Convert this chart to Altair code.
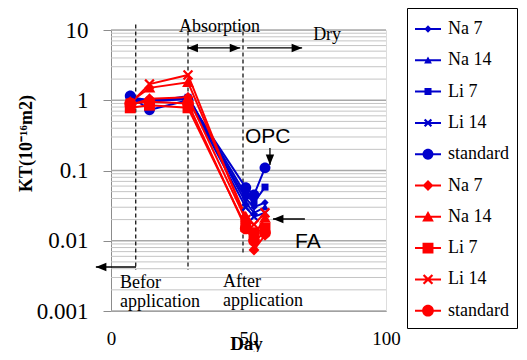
import altair as alt
import pandas as pd

# ---------------- data ----------------
days = [7, 14, 28, 49, 52, 56]
series_keys = ["OPC|Na 7", "OPC|Na 14", "OPC|Li 7", "OPC|Li 14", "OPC|standard",
               "FA|Na 7", "FA|Na 14", "FA|Li 7", "FA|Li 14", "FA|standard"]

opc_na7 = [1.05, 1.0, 1.05, 0.040, 0.030, 0.035]
opc_na14 = [1.0, 0.95, 1.15, 0.035, 0.025, 0.030]
opc_li7 = [1.10, 1.0, 1.10, 0.045, 0.035, 0.058]
opc_li14 = [1.05, 0.95, 1.05, 0.030, 0.022, 0.025]
opc_std = [1.15, 0.73, 1.0, 0.057, 0.045, 0.109]
fa_na7 = [0.85, 1.05, 1.10, 0.020, 0.0074, 0.012]
fa_na14 = [0.95, 1.50, 1.80, 0.022, 0.012, 0.021]
fa_li7 = [0.78, 0.85, 0.78, 0.016, 0.013, 0.015]
fa_li14 = [0.90, 1.70, 2.29, 0.020, 0.017, 0.025]
fa_std = [0.90, 0.95, 0.90, 0.015, 0.010, 0.013]
all_series = [opc_na7, opc_na14, opc_li7, opc_li14, opc_std,
              fa_na7, fa_na14, fa_li7, fa_li14, fa_std]

y_ticks = [0.001, 0.01, 0.1, 1, 10]
x_ticks = [0, 50, 100]
grid_vals = [k * 10.0 ** e for e in range(-3, 1) for k in range(1, 10)] + [10]

# annotations
dash_days = [9, 28, 48]
dash_top = [12, 12, 12]
dash_bottom = [0.00384, 0.00384, 0.0067]

arr_x1 = [27.8, 49.5, 9.1, 57.8, 70.5]
arr_x2 = [47.0, 69.5, -5.5, 57.8, 58.9]
arr_y1 = [5.55, 5.55, 0.00423, 0.209, 0.0204]
arr_y2 = [5.55, 5.55, 0.00423, 0.12, 0.0204]

head_day = [27.8, 47.0, 69.5, -5.5, 57.8, 58.9]
head_kt = [5.55, 5.55, 5.55, 0.00423, 0.12, 0.0204]
head_dir = ["left", "right", "right", "left", "down", "left"]

serif_texts = ["Absorption", "Dry", "Befor", "application", "After", "application"]
serif_day = [24.7, 73.5, 3.3, 3.3, 40.7, 40.7]
serif_kt = [9.37, 7.21, 0.002126, 0.00114, 0.0022, 0.00118]
sans_texts = ["OPC", "FA"]
sans_day = [48.7, 66.9]
sans_kt = [0.246, 0.00789]

# ---------------- styles ----------------
BLUE = "#0000cc"
RED = "#ff0000"
colors = [BLUE] * 5 + [RED] * 5


def diamond(s):
    return f"M0,{-s}L{s},0L0,{s}L{-s},0Z"


def triangle(s):
    return f"M0,{-s}L{s},{0.8 * s}L{-s},{0.8 * s}Z"


def square(s):
    return f"M{-s},{-s}L{s},{-s}L{s},{s}L{-s},{s}Z"


def xmark(s, t=0.12):
    return (f"M{-s},{-s + t}L{-s + t},{-s}L0,{-t}L{s - t},{-s}L{s},{-s + t}L{t},0"
            f"L{s},{s - t}L{s - t},{s}L0,{t}L{-s + t},{s}L{-s},{s - t}L{-t},0Z")


def circle(r):
    return f"M{-r},0A{r},{r} 0 1,1 {r},0A{r},{r} 0 1,1 {-r},0Z"


markers = [diamond(0.28), triangle(0.3), square(0.27), xmark(0.32), circle(0.42),
           diamond(0.42), triangle(0.45), square(0.42), xmark(0.4), circle(0.45)]
LINE = "M-1,-0.077L1,-0.077L1,0.077L-1,0.077Z"
legend_symbols = [LINE + m for m in markers]

heads = {"right": "M0,0L-2,-0.8L-2,0.8Z",
         "left": "M0,0L2,-0.8L2,0.8Z",
         "down": "M0,0L-0.8,-2L0.8,-2Z"}

# ---------------- tables ----------------
rows = []
for key, vals in zip(series_keys, all_series):
    for d, v in zip(days, vals):
        rows.append({"key": key, "day": d, "kt": v})
df = pd.DataFrame(rows)

grid_df = pd.DataFrame({"v": grid_vals,
                        "major": [any(abs(v - t) < 1e-12 for t in y_ticks) for v in grid_vals]})
dash_df = pd.DataFrame({"day": dash_days, "top": dash_top, "bottom": dash_bottom})
arr_df = pd.DataFrame({"x1": arr_x1, "x2": arr_x2, "y1": arr_y1, "y2": arr_y2})
head_df = pd.DataFrame({"day": head_day, "kt": head_kt,
                        "shape": [heads[d] for d in head_dir]})
serif_df = pd.DataFrame({"t": serif_texts, "day": serif_day, "kt": serif_kt})
sans_df = pd.DataFrame({"t": sans_texts, "day": sans_day, "kt": sans_kt})

xscale = alt.Scale(domain=[0, 100], nice=False, zero=False)
yscale = alt.Scale(type="log", domain=[0.001, 10], nice=False)

xaxis = alt.Axis(values=x_ticks, grid=False, ticks=False, domainColor="#8c8c8c",
                 labelFont="Liberation Serif", labelFontSize=19, labelColor="black",
                 labelPadding=18, labelFlush=False, labelOverlap=False,
                 title="Day", titleFont="Liberation Serif", titleFontSize=19,
                 titleFontWeight="bold", titleColor="black",
                 titleBaseline="alphabetic", titleY=38, titleX=135)
yaxis = alt.Axis(values=y_ticks, format="~g", grid=False, tickSize=8,
                 tickColor="#8c8c8c", domainColor="#8c8c8c",
                 labelFont="Liberation Serif", labelFontSize=23, labelColor="black",
                 labelPadding=15, labelOverlap=False,
                 title="KT(10⁻¹⁶m2)", titleFont="Liberation Serif", titleFontSize=18,
                 titleFontWeight="bold", titleColor="black",
                 titleBaseline="alphabetic", titleX=-80, titleY=113, titleAlign="center")

X = alt.X("day:Q", scale=xscale, axis=xaxis)
Y = alt.Y("kt:Q", scale=yscale, axis=yaxis)

grid_minor = alt.Chart(grid_df).transform_filter("!datum.major").mark_rule(
    color="#c4c4c4", strokeWidth=1).encode(
    x=alt.datum(0, scale=xscale), x2=alt.datum(100),
    y=alt.Y("v:Q", scale=yscale, axis=yaxis))
grid_major = alt.Chart(grid_df).transform_filter("datum.major").mark_rule(
    color="#a8a8a8", strokeWidth=1.4).encode(
    x=alt.datum(0, scale=xscale), x2=alt.datum(100),
    y=alt.Y("v:Q", scale=yscale, axis=yaxis))

dashes = alt.Chart(dash_df).mark_rule(color="black", strokeWidth=1.2,
                                      strokeDash=[4, 3]).encode(
    x=alt.X("day:Q", scale=xscale, axis=xaxis),
    y=alt.Y("top:Q", scale=yscale, axis=yaxis), y2="bottom:Q")

cscale = alt.Scale(domain=series_keys, range=colors)
lines = alt.Chart(df).mark_line(strokeWidth=2).encode(
    x=X, y=Y, color=alt.Color("key:N", scale=cscale, legend=None))
points = alt.Chart(df).mark_point(filled=True, size=676, opacity=1).encode(
    x=X, y=Y, color=alt.Color("key:N", scale=cscale, legend=None),
    shape=alt.Shape("key:N", scale=alt.Scale(domain=series_keys, range=markers),
                    legend=None))

leg = alt.Legend(title=None, orient="none", legendX=296, legendY=-22,
                 labelExpr="split(datum.label, '|')[1]",
                 labelFont="Liberation Serif", labelFontSize=18, labelColor="black",
                 labelOffset=7, symbolSize=676, symbolStrokeWidth=0,
                 symbolOpacity=1, rowPadding=9.3, padding=8,
                 strokeColor="black", fillColor="white", labelLimit=200)
legend_layer = alt.Chart(df).transform_filter("datum.day < 0").mark_point(
    filled=True, size=676).encode(
    x=X, y=Y,
    color=alt.Color("key:N", scale=cscale, legend=leg),
    shape=alt.Shape("key:N", scale=alt.Scale(domain=series_keys, range=legend_symbols),
                    legend=leg))

arrows = alt.Chart(arr_df).mark_rule(color="black", strokeWidth=1.3).encode(
    x=alt.X("x1:Q", scale=xscale, axis=xaxis), x2="x2:Q",
    y=alt.Y("y1:Q", scale=yscale, axis=yaxis), y2="y2:Q")
arrowheads = alt.Chart(head_df).mark_point(filled=True, size=110, color="black",
                                           opacity=1).encode(
    x=X, y=Y, shape=alt.Shape("shape:N", scale=None))

serif_text = alt.Chart(serif_df).mark_text(
    font="Liberation Serif", fontSize=18, align="left", baseline="alphabetic",
    color="black").encode(x=X, y=Y, text="t:N")
sans_text = alt.Chart(sans_df).mark_text(
    font="Liberation Sans", fontSize=21, align="left", baseline="alphabetic",
    color="black").encode(x=X, y=Y, text="t:N")

chart = alt.layer(grid_minor, grid_major, dashes, lines, points, legend_layer,
                  arrows, arrowheads, serif_text, sans_text).resolve_scale(
    color="independent", shape="independent").properties(
    width=275, height=281,
    autosize=alt.AutoSizeParams(type="none"),
    padding={"left": 103, "top": 22, "right": 133, "bottom": 41},
).configure_view(stroke=None).configure(background="white")

chart.save("out.html", embed_options={"renderer": "svg", "actions": False})
